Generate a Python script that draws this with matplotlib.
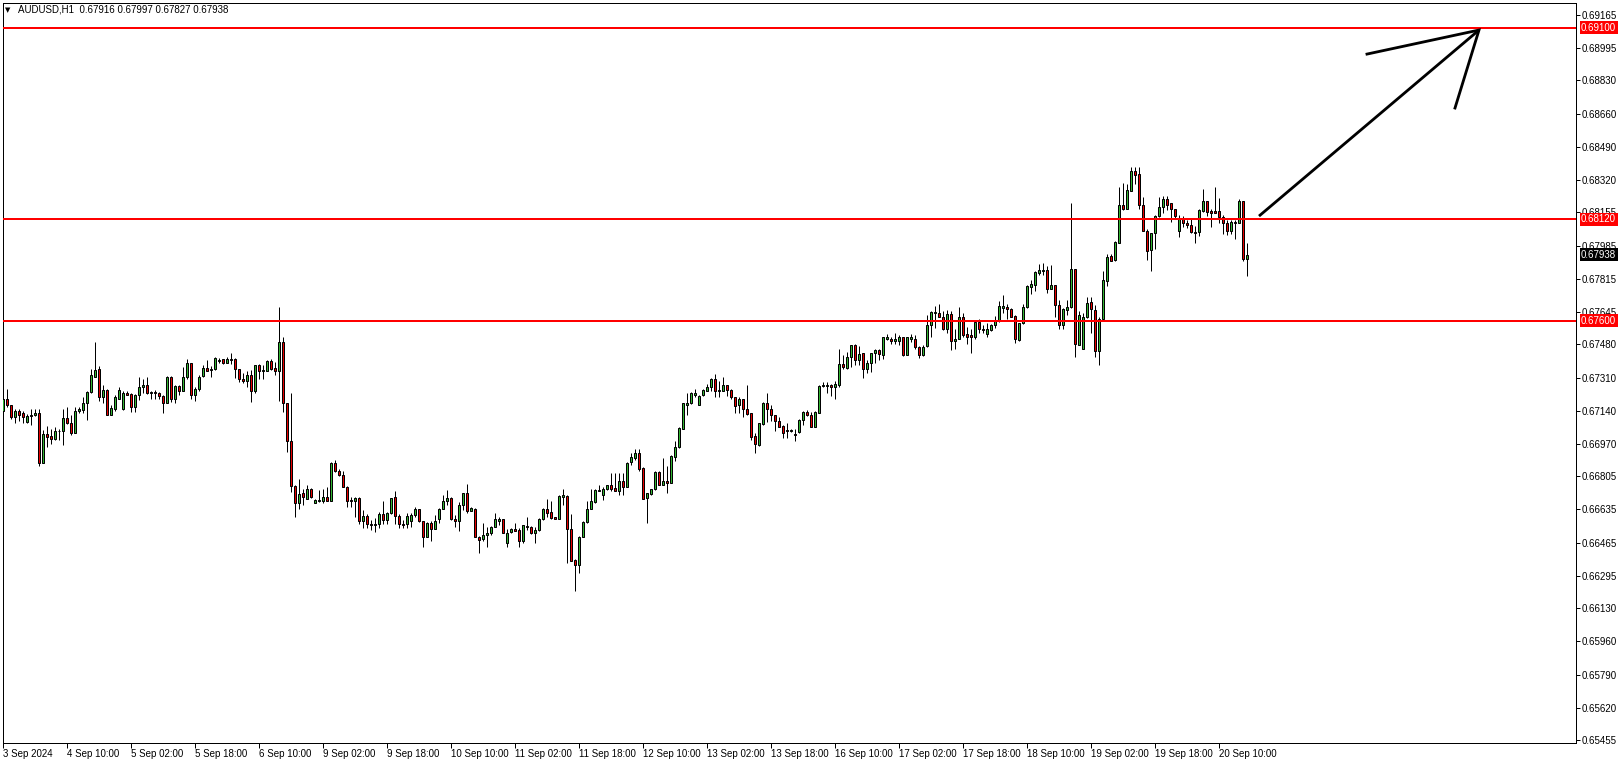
import numpy as np
import matplotlib
matplotlib.use('Agg')
import matplotlib.pyplot as plt

# AUDUSD H1 candles, 3 Sep 18:00 .. 20 Sep 17:00
opens = [
    0.67140, 0.67198, 0.67167, 0.67106, 0.67140, 0.67127, 0.67082, 0.67116, 0.67116, 0.67127,
    0.66874, 0.67021, 0.67010, 0.66993, 0.67034, 0.67034, 0.67103, 0.67075, 0.67028, 0.67137,
    0.67144, 0.67178, 0.67236, 0.67311, 0.67352, 0.67212, 0.67246, 0.67120, 0.67150, 0.67202,
    0.67150, 0.67232, 0.67225, 0.67157, 0.67222, 0.67260, 0.67270, 0.67229, 0.67236, 0.67229,
    0.67215, 0.67181, 0.67311, 0.67202, 0.67266, 0.67242, 0.67311, 0.67382, 0.67219, 0.67253,
    0.67318, 0.67358, 0.67348, 0.67352, 0.67393, 0.67403, 0.67386, 0.67403, 0.67407, 0.67352,
    0.67304, 0.67291, 0.67321, 0.67240, 0.67373, 0.67345, 0.67345, 0.67397, 0.67359, 0.67345,
    0.67492, 0.67178, 0.66987, 0.66755, 0.66666, 0.66718, 0.66690, 0.66741, 0.66670, 0.66677,
    0.66680, 0.66697, 0.66680, 0.66871, 0.66830, 0.66810, 0.66752, 0.66683, 0.66680, 0.66694,
    0.66575, 0.66600, 0.66560, 0.66555, 0.66560, 0.66610, 0.66580, 0.66615, 0.66697, 0.66601,
    0.66560, 0.66560, 0.66577, 0.66608, 0.66635, 0.66574, 0.66495, 0.66564, 0.66533, 0.66584,
    0.66639, 0.66680, 0.66693, 0.66587, 0.66574, 0.66659, 0.66717, 0.66628, 0.66639, 0.66495,
    0.66482, 0.66505, 0.66512, 0.66546, 0.66577, 0.66584, 0.66461, 0.66519, 0.66536, 0.66529,
    0.66475, 0.66550, 0.66543, 0.66512, 0.66529, 0.66587, 0.66635, 0.66622, 0.66594, 0.66587,
    0.66700, 0.66703, 0.66536, 0.66376, 0.66349, 0.66495, 0.66570, 0.66639, 0.66673, 0.66731,
    0.66707, 0.66738, 0.66758, 0.66744, 0.66731, 0.66778, 0.66751, 0.66878, 0.66898, 0.66922,
    0.66847, 0.66694, 0.66714, 0.66738, 0.66827, 0.66762, 0.66779, 0.66772, 0.66905, 0.66953,
    0.67049, 0.67171, 0.67178, 0.67223, 0.67171, 0.67219, 0.67243, 0.67260, 0.67301, 0.67243,
    0.67243, 0.67270, 0.67246, 0.67209, 0.67168, 0.67199, 0.67148, 0.67127, 0.67011, 0.66967,
    0.67072, 0.67182, 0.67151, 0.67117, 0.67086, 0.67062, 0.67042, 0.67038, 0.67021, 0.67032,
    0.67090, 0.67134, 0.67120, 0.67059, 0.67130, 0.67264, 0.67267, 0.67274, 0.67260, 0.67273,
    0.67379, 0.67358, 0.67413, 0.67474, 0.67399, 0.67433, 0.67355, 0.67386, 0.67433, 0.67450,
    0.67426, 0.67508, 0.67505, 0.67498, 0.67498, 0.67515, 0.67426, 0.67508, 0.67508, 0.67464,
    0.67423, 0.67471, 0.67577, 0.67638, 0.67638, 0.67621, 0.67560, 0.67635, 0.67495, 0.67508,
    0.67621, 0.67532, 0.67525, 0.67519, 0.67594, 0.67560, 0.67532, 0.67553, 0.67577, 0.67601,
    0.67665, 0.67669, 0.67662, 0.67624, 0.67502, 0.67587, 0.67669, 0.67775, 0.67785, 0.67846,
    0.67856, 0.67860, 0.67765, 0.67782, 0.67683, 0.67577, 0.67655, 0.67669, 0.67863, 0.67478,
    0.67457, 0.67618, 0.67696, 0.67655, 0.67444, 0.67611, 0.67805, 0.67932, 0.67911, 0.68000,
    0.68191, 0.68174, 0.68266, 0.68365, 0.68351, 0.68194, 0.68061, 0.67962, 0.68048, 0.68136,
    0.68181, 0.68222, 0.68201, 0.68171, 0.68058, 0.68119, 0.68102, 0.68089, 0.68055, 0.68055,
    0.68164, 0.68211, 0.68164, 0.68160, 0.68160, 0.68130, 0.68099, 0.68061, 0.68106, 0.68102,
    0.68211, 0.67916,
]
highs = [
    0.67212, 0.67249, 0.67171, 0.67150, 0.67150, 0.67140, 0.67123, 0.67147, 0.67147, 0.67150,
    0.67041, 0.67062, 0.67045, 0.67058, 0.67048, 0.67150, 0.67161, 0.67120, 0.67161, 0.67161,
    0.67212, 0.67242, 0.67352, 0.67492, 0.67369, 0.67270, 0.67249, 0.67167, 0.67222, 0.67260,
    0.67242, 0.67239, 0.67229, 0.67225, 0.67314, 0.67300, 0.67314, 0.67239, 0.67246, 0.67236,
    0.67219, 0.67318, 0.67318, 0.67270, 0.67270, 0.67362, 0.67403, 0.67386, 0.67260, 0.67321,
    0.67372, 0.67399, 0.67369, 0.67414, 0.67410, 0.67407, 0.67414, 0.67437, 0.67410, 0.67356,
    0.67335, 0.67342, 0.67349, 0.67376, 0.67379, 0.67373, 0.67400, 0.67407, 0.67390, 0.67673,
    0.67516, 0.67182, 0.67229, 0.66758, 0.66793, 0.66741, 0.66758, 0.66745, 0.66687, 0.66735,
    0.66741, 0.66752, 0.66878, 0.66888, 0.66844, 0.66834, 0.66755, 0.66700, 0.66700, 0.66700,
    0.66630, 0.66610, 0.66580, 0.66590, 0.66620, 0.66680, 0.66620, 0.66694, 0.66728, 0.66610,
    0.66580, 0.66615, 0.66618, 0.66649, 0.66635, 0.66577, 0.66570, 0.66574, 0.66608, 0.66642,
    0.66707, 0.66734, 0.66697, 0.66608, 0.66673, 0.66720, 0.66765, 0.66645, 0.66642, 0.66499,
    0.66564, 0.66543, 0.66550, 0.66615, 0.66594, 0.66587, 0.66533, 0.66540, 0.66567, 0.66540,
    0.66557, 0.66594, 0.66550, 0.66543, 0.66591, 0.66642, 0.66686, 0.66676, 0.66598, 0.66710,
    0.66738, 0.66707, 0.66611, 0.66379, 0.66499, 0.66574, 0.66680, 0.66738, 0.66738, 0.66758,
    0.66751, 0.66761, 0.66819, 0.66823, 0.66819, 0.66823, 0.66877, 0.66922, 0.66943, 0.66943,
    0.66851, 0.66721, 0.66741, 0.66830, 0.66830, 0.66898, 0.66857, 0.66912, 0.66987, 0.67055,
    0.67182, 0.67229, 0.67236, 0.67250, 0.67223, 0.67253, 0.67277, 0.67308, 0.67328, 0.67294,
    0.67315, 0.67274, 0.67250, 0.67212, 0.67209, 0.67202, 0.67270, 0.67130, 0.67025, 0.67079,
    0.67185, 0.67229, 0.67168, 0.67120, 0.67107, 0.67066, 0.67076, 0.67049, 0.67049, 0.67096,
    0.67137, 0.67144, 0.67134, 0.67137, 0.67270, 0.67287, 0.67287, 0.67277, 0.67291, 0.67457,
    0.67426, 0.67440, 0.67478, 0.67484, 0.67471, 0.67437, 0.67399, 0.67437, 0.67454, 0.67457,
    0.67519, 0.67532, 0.67519, 0.67536, 0.67529, 0.67519, 0.67519, 0.67532, 0.67525, 0.67471,
    0.67474, 0.67631, 0.67652, 0.67676, 0.67686, 0.67648, 0.67655, 0.67648, 0.67560, 0.67672,
    0.67641, 0.67570, 0.67560, 0.67597, 0.67607, 0.67577, 0.67587, 0.67583, 0.67624, 0.67699,
    0.67734, 0.67686, 0.67665, 0.67628, 0.67590, 0.67686, 0.67781, 0.67809, 0.67853, 0.67891,
    0.67894, 0.67880, 0.67884, 0.67785, 0.67707, 0.67666, 0.67707, 0.68205, 0.67867, 0.67648,
    0.67642, 0.67724, 0.67724, 0.67679, 0.67618, 0.67857, 0.67942, 0.67942, 0.68007, 0.68283,
    0.68304, 0.68300, 0.68385, 0.68389, 0.68385, 0.68232, 0.68068, 0.68051, 0.68140, 0.68232,
    0.68239, 0.68239, 0.68205, 0.68174, 0.68143, 0.68136, 0.68116, 0.68126, 0.68085, 0.68174,
    0.68273, 0.68215, 0.68171, 0.68283, 0.68228, 0.68140, 0.68116, 0.68116, 0.68116, 0.68225,
    0.68211, 0.67997,
]
lows = [
    0.67123, 0.67157, 0.67099, 0.67075, 0.67089, 0.67075, 0.67075, 0.67065, 0.67113, 0.66857,
    0.66871, 0.66952, 0.66970, 0.66990, 0.66990, 0.66963, 0.67072, 0.67017, 0.67028, 0.67130,
    0.67127, 0.67092, 0.67232, 0.67311, 0.67191, 0.67178, 0.67116, 0.67116, 0.67140, 0.67198,
    0.67144, 0.67219, 0.67133, 0.67133, 0.67195, 0.67232, 0.67225, 0.67202, 0.67202, 0.67198,
    0.67130, 0.67178, 0.67185, 0.67181, 0.67219, 0.67239, 0.67300, 0.67202, 0.67191, 0.67239,
    0.67314, 0.67341, 0.67314, 0.67349, 0.67383, 0.67379, 0.67383, 0.67379, 0.67308, 0.67287,
    0.67281, 0.67263, 0.67185, 0.67229, 0.67301, 0.67301, 0.67342, 0.67349, 0.67321, 0.67192,
    0.67134, 0.66929, 0.66724, 0.66595, 0.66639, 0.66660, 0.66687, 0.66694, 0.66666, 0.66673,
    0.66670, 0.66677, 0.66680, 0.66827, 0.66806, 0.66748, 0.66646, 0.66649, 0.66598, 0.66560,
    0.66540, 0.66540, 0.66530, 0.66520, 0.66540, 0.66560, 0.66560, 0.66610, 0.66560, 0.66540,
    0.66540, 0.66540, 0.66546, 0.66598, 0.66570, 0.66441, 0.66492, 0.66475, 0.66533, 0.66564,
    0.66635, 0.66656, 0.66581, 0.66543, 0.66526, 0.66632, 0.66618, 0.66625, 0.66492, 0.66410,
    0.66475, 0.66444, 0.66505, 0.66543, 0.66553, 0.66512, 0.66444, 0.66512, 0.66523, 0.66444,
    0.66461, 0.66529, 0.66509, 0.66461, 0.66526, 0.66581, 0.66598, 0.66587, 0.66584, 0.66584,
    0.66656, 0.66359, 0.66372, 0.66215, 0.66311, 0.66492, 0.66567, 0.66635, 0.66669, 0.66731,
    0.66683, 0.66734, 0.66731, 0.66727, 0.66707, 0.66707, 0.66748, 0.66861, 0.66888, 0.66834,
    0.66687, 0.66564, 0.66711, 0.66735, 0.66759, 0.66759, 0.66718, 0.66769, 0.66881, 0.66950,
    0.67045, 0.67117, 0.67175, 0.67209, 0.67171, 0.67216, 0.67240, 0.67240, 0.67209, 0.67209,
    0.67240, 0.67216, 0.67202, 0.67130, 0.67127, 0.67107, 0.67120, 0.66991, 0.66922, 0.66960,
    0.67069, 0.67083, 0.67086, 0.67035, 0.67055, 0.67001, 0.67001, 0.67032, 0.66987, 0.67028,
    0.67069, 0.67113, 0.67055, 0.67055, 0.67127, 0.67260, 0.67233, 0.67216, 0.67199, 0.67259,
    0.67351, 0.67355, 0.67365, 0.67375, 0.67375, 0.67306, 0.67331, 0.67338, 0.67382, 0.67399,
    0.67406, 0.67502, 0.67484, 0.67481, 0.67474, 0.67420, 0.67423, 0.67491, 0.67457, 0.67409,
    0.67420, 0.67464, 0.67519, 0.67563, 0.67618, 0.67553, 0.67536, 0.67450, 0.67454, 0.67505,
    0.67515, 0.67484, 0.67437, 0.67508, 0.67536, 0.67539, 0.67515, 0.67549, 0.67563, 0.67594,
    0.67638, 0.67607, 0.67618, 0.67488, 0.67498, 0.67583, 0.67665, 0.67737, 0.67754, 0.67836,
    0.67836, 0.67741, 0.67761, 0.67621, 0.67560, 0.67560, 0.67628, 0.67666, 0.67416, 0.67474,
    0.67457, 0.67614, 0.67539, 0.67416, 0.67372, 0.67608, 0.67778, 0.67904, 0.67908, 0.67996,
    0.68167, 0.68171, 0.68263, 0.68300, 0.68171, 0.68058, 0.67911, 0.67857, 0.67969, 0.68133,
    0.68150, 0.68167, 0.68106, 0.68123, 0.68031, 0.68078, 0.68075, 0.68048, 0.68000, 0.68034,
    0.68157, 0.68136, 0.68078, 0.68150, 0.68099, 0.68044, 0.68037, 0.68044, 0.68020, 0.68099,
    0.67904, 0.67827,
]
closes = [
    0.67198, 0.67167, 0.67106, 0.67137, 0.67120, 0.67109, 0.67113, 0.67113, 0.67127, 0.66874,
    0.67021, 0.67007, 0.66993, 0.67034, 0.67038, 0.67103, 0.67075, 0.67028, 0.67140, 0.67150,
    0.67181, 0.67236, 0.67324, 0.67348, 0.67212, 0.67246, 0.67120, 0.67154, 0.67208, 0.67246,
    0.67232, 0.67222, 0.67157, 0.67219, 0.67260, 0.67270, 0.67229, 0.67236, 0.67229, 0.67215,
    0.67181, 0.67311, 0.67202, 0.67266, 0.67239, 0.67311, 0.67382, 0.67219, 0.67253, 0.67314,
    0.67358, 0.67345, 0.67352, 0.67410, 0.67400, 0.67386, 0.67403, 0.67400, 0.67352, 0.67301,
    0.67291, 0.67321, 0.67240, 0.67373, 0.67345, 0.67349, 0.67397, 0.67356, 0.67345, 0.67492,
    0.67178, 0.66984, 0.66755, 0.66666, 0.66714, 0.66697, 0.66738, 0.66697, 0.66683, 0.66683,
    0.66697, 0.66680, 0.66874, 0.66830, 0.66810, 0.66752, 0.66677, 0.66677, 0.66694, 0.66575,
    0.66600, 0.66560, 0.66555, 0.66560, 0.66610, 0.66580, 0.66615, 0.66694, 0.66601, 0.66560,
    0.66555, 0.66600, 0.66604, 0.66635, 0.66574, 0.66495, 0.66564, 0.66533, 0.66577, 0.66639,
    0.66680, 0.66693, 0.66584, 0.66574, 0.66659, 0.66717, 0.66628, 0.66642, 0.66495, 0.66478,
    0.66505, 0.66512, 0.66543, 0.66584, 0.66584, 0.66516, 0.66516, 0.66536, 0.66526, 0.66475,
    0.66553, 0.66543, 0.66512, 0.66529, 0.66587, 0.66635, 0.66618, 0.66591, 0.66587, 0.66703,
    0.66710, 0.66536, 0.66372, 0.66349, 0.66495, 0.66570, 0.66639, 0.66676, 0.66734, 0.66734,
    0.66738, 0.66758, 0.66741, 0.66731, 0.66778, 0.66751, 0.66874, 0.66902, 0.66922, 0.66840,
    0.66690, 0.66718, 0.66738, 0.66827, 0.66762, 0.66779, 0.66772, 0.66909, 0.66953, 0.67052,
    0.67178, 0.67182, 0.67229, 0.67233, 0.67216, 0.67246, 0.67260, 0.67301, 0.67240, 0.67246,
    0.67270, 0.67246, 0.67209, 0.67165, 0.67199, 0.67148, 0.67124, 0.67008, 0.66970, 0.67076,
    0.67182, 0.67151, 0.67117, 0.67086, 0.67059, 0.67028, 0.67035, 0.67042, 0.67014, 0.67093,
    0.67134, 0.67117, 0.67059, 0.67134, 0.67267, 0.67274, 0.67274, 0.67260, 0.67277, 0.67379,
    0.67362, 0.67413, 0.67474, 0.67399, 0.67430, 0.67355, 0.67382, 0.67433, 0.67450, 0.67430,
    0.67515, 0.67515, 0.67498, 0.67505, 0.67515, 0.67426, 0.67515, 0.67515, 0.67467, 0.67423,
    0.67467, 0.67577, 0.67645, 0.67645, 0.67621, 0.67560, 0.67635, 0.67495, 0.67508, 0.67621,
    0.67529, 0.67519, 0.67519, 0.67594, 0.67556, 0.67553, 0.67556, 0.67577, 0.67604, 0.67676,
    0.67676, 0.67662, 0.67621, 0.67505, 0.67587, 0.67669, 0.67778, 0.67788, 0.67850, 0.67860,
    0.67860, 0.67765, 0.67782, 0.67683, 0.67577, 0.67659, 0.67669, 0.67863, 0.67481, 0.67631,
    0.67618, 0.67689, 0.67659, 0.67444, 0.67611, 0.67809, 0.67928, 0.67908, 0.68003, 0.68191,
    0.68174, 0.68269, 0.68365, 0.68348, 0.68194, 0.68061, 0.67959, 0.68048, 0.68136, 0.68181,
    0.68222, 0.68194, 0.68174, 0.68136, 0.68123, 0.68099, 0.68089, 0.68055, 0.68051, 0.68167,
    0.68211, 0.68157, 0.68150, 0.68153, 0.68130, 0.68099, 0.68061, 0.68106, 0.68102, 0.68211,
    0.67918, 0.67938,
]

time_labels = ['3 Sep 2024', '4 Sep 10:00', '5 Sep 02:00', '5 Sep 18:00', '6 Sep 10:00',
               '9 Sep 02:00', '9 Sep 18:00', '10 Sep 10:00', '11 Sep 02:00', '11 Sep 18:00',
               '12 Sep 10:00', '13 Sep 02:00', '13 Sep 18:00', '16 Sep 10:00', '17 Sep 02:00',
               '17 Sep 18:00', '18 Sep 10:00', '19 Sep 02:00', '19 Sep 18:00', '20 Sep 10:00']
price_ticks = [0.69165, 0.68995, 0.68830, 0.68660, 0.68490, 0.68320, 0.68155, 0.67985,
               0.67815, 0.67645, 0.67480, 0.67310, 0.67140, 0.66970, 0.66805, 0.66635,
               0.66465, 0.66295, 0.66130, 0.65960, 0.65790, 0.65620, 0.65455]
levels = [0.69100, 0.68120, 0.67600]
last_price = 0.67938

# hand drawn arrow (bar index, price)
arrow_shaft = [(314, 0.68136), (369, 0.69088)]
arrow_barbs = [(341, 0.68965), (369, 0.69088), (363, 0.68689)]

W, H = 1621, 764
PX = 0.72  # one pixel in points at dpi 100
FONT = ['Liberation Sans', 'DejaVu Sans']
GREEN = '#32b432'
RED = '#e60000'

fig = plt.figure(figsize=(W / 100, H / 100), dpi=100)
ax = fig.add_axes([2.5 / W, (H - 742.5) / H, 1573 / W, 740 / H])

o = np.array(opens)
h = np.array(highs)
l = np.array(lows)
c = np.array(closes)
x = np.arange(len(o))

ax.vlines(x, l, h, color='black', lw=PX, zorder=2)
body_lo = np.minimum(o, c)
body_h = np.abs(c - o)
colors = np.where(c >= o, GREEN, RED)
ax.bar(x, body_h, bottom=body_lo, width=0.55, color=colors,
       edgecolor='black', linewidth=PX, zorder=3)

for lv in levels:
    ax.axhline(lv, color='red', lw=2 * PX, zorder=4)

xs, ys = zip(*arrow_shaft)
ax.plot(xs, ys, color='black', lw=2.8 * PX, zorder=5, solid_capstyle='butt')
xs, ys = zip(*arrow_barbs)
ax.plot(xs, ys, color='black', lw=2.8 * PX, zorder=5, solid_joinstyle='miter')

ax.set_xlim((2.5 - 3) / 4, (1575.5 - 3) / 4)
ax.set_ylim(0.69165 - (742.5 - 15) / 19542, 0.69165 + 12.5 / 19542)

for s in ax.spines.values():
    s.set_linewidth(PX)

ax.yaxis.tick_right()
ax.set_yticks(price_ticks)
ax.set_yticklabels(['%.5f' % p for p in price_ticks], fontsize=7, family=FONT)
ax.tick_params(axis='y', length=3, width=PX, pad=1.5)

ax.set_xticks(np.arange(len(time_labels)) * 16)
ax.set_xticklabels(time_labels, fontsize=7, family=FONT, ha='left')
ax.tick_params(axis='x', length=3.5, width=PX, pad=1.5)

for lv in levels:
    ax.annotate('%.5f' % lv, xy=(1, lv), xycoords=('axes fraction', 'data'),
                xytext=(4, 0), textcoords='offset points', va='center', ha='left',
                fontsize=7, family=FONT, color='white', annotation_clip=False,
                bbox=dict(boxstyle='square,pad=0.15', fc='red', ec='none'), zorder=6)
ax.annotate('%.5f' % last_price, xy=(1, last_price), xycoords=('axes fraction', 'data'),
            xytext=(4, 0), textcoords='offset points', va='center', ha='left',
            fontsize=7, family=FONT, color='white', annotation_clip=False,
            bbox=dict(boxstyle='square,pad=0.15', fc='black', ec='none'), zorder=6)

fig.text(5 / W, 1 - 10 / H, '\u25bc', fontsize=5, family=['DejaVu Sans'], va='center')
fig.text(18 / W, 1 - 10 / H, 'AUDUSD,H1  0.67916 0.67997 0.67827 0.67938',
         fontsize=7, family=FONT, va='center')

fig.savefig('out.png', dpi=100, facecolor='white')
